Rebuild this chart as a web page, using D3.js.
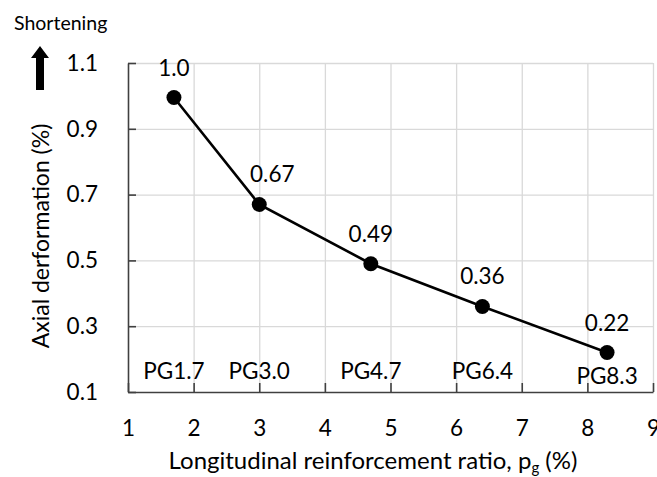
<!DOCTYPE html>
<html>
<head>
<meta charset="utf-8">
<script src="https://cdn.jsdelivr.net/npm/d3@7"></script>
<style>
  body { margin: 0; background: #fff; }
  text { font-family: Lato, "Open Sans", sans-serif; fill: #000; }
</style>
</head>
<body>
<svg id="chart" width="657" height="477"></svg>
<script>
// data
var ratio = [1.7, 3.0, 4.7, 6.4, 8.3];
var deform = [0.995, 0.67, 0.49, 0.36, 0.22];
var valueLabels = ["1.0", "0.67", "0.49", "0.36", "0.22"];
var specimens = ["PG1.7", "PG3.0", "PG4.7", "PG6.4", "PG8.3"];
var xTicks = [1, 2, 3, 4, 5, 6, 7, 8, 9];
var yTicks = [0.1, 0.3, 0.5, 0.7, 0.9, 1.1];

var Width = 657, Height = 477;
var margin = {top: 63, right: 4, bottom: 85, left: 128};

var x = d3.scaleLinear().domain([1, 9]).range([margin.left, Width - margin.right]);
var y = d3.scaleLinear().domain([0.1, 1.1]).range([Height - margin.bottom, margin.top]);

var svg = d3.select("#chart");

// grid lines
svg.append("g")
    .attr("transform", "translate(0," + y(0.1) + ")")
    .call(d3.axisBottom(x).tickValues(xTicks.slice(1)).tickSize(-(y(0.1) - y(1.1))).tickFormat(""))
    .call(g => g.select(".domain").remove())
    .selectAll("line").attr("stroke", "#d9d9d9").attr("stroke-width", 1.3);

svg.append("g")
    .attr("transform", "translate(" + x(1) + ",0)")
    .call(d3.axisLeft(y).tickValues(yTicks.slice(1)).tickSize(-(x(9) - x(1))).tickFormat(""))
    .call(g => g.select(".domain").remove())
    .selectAll("line").attr("stroke", "#d9d9d9").attr("stroke-width", 1.3);

// axes, ticks pointing inward
var xAxis = svg.append("g")
    .attr("transform", "translate(0," + y(0.1) + ")")
    .call(d3.axisBottom(x).tickValues(xTicks).tickSizeInner(-9).tickSizeOuter(0).tickPadding(28).tickFormat(d3.format("d")));

var yAxis = svg.append("g")
    .attr("transform", "translate(" + x(1) + ",0)")
    .call(d3.axisLeft(y).tickValues(yTicks).tickSizeInner(-8).tickSizeOuter(0).tickPadding(30).tickFormat(d3.format(".1f")));

[xAxis, yAxis].forEach(function(a) {
  a.select(".domain").attr("stroke", "#404040").attr("stroke-width", 1.6);
  a.selectAll(".tick line").attr("stroke", "#404040").attr("stroke-width", 1.6);
  a.selectAll(".tick text").style("font-size", "22.5px").attr("fill", "#000");
});

// the line and markers
var line = d3.line()
    .x(function(d, i) { return x(ratio[i]); })
    .y(function(d) { return y(d); });

svg.append("path")
    .attr("d", line(deform))
    .attr("fill", "none")
    .attr("stroke", "#000")
    .attr("stroke-width", 2.6);

svg.selectAll(".pt")
    .data(deform)
    .enter().append("circle")
    .attr("class", "pt")
    .attr("cx", function(d, i) { return x(ratio[i]); })
    .attr("cy", function(d) { return y(d); })
    .attr("r", 7.5)
    .attr("fill", "#000");

// value labels above points
svg.selectAll(".val")
    .data(deform)
    .enter().append("text")
    .attr("class", "val")
    .attr("x", function(d, i) { return x(ratio[i]) + (i == 1 ? 13 : 0); })
    .attr("y", function(d) { return y(d) - 22; })
    .attr("text-anchor", "middle")
    .style("font-size", "22.5px")
    .text(function(d, i) { return valueLabels[i]; });

// specimen names along the bottom
svg.selectAll(".spec")
    .data(specimens)
    .enter().append("text")
    .attr("class", "spec")
    .attr("x", function(d, i) { return x(ratio[i]); })
    .attr("y", function(d, i) { return y(0.1) - (i == 4 ? 8 : 13); })
    .attr("text-anchor", "middle")
    .style("font-size", "22.5px")
    .text(function(d) { return d; });

// axis titles
svg.append("text")
    .attr("transform", "translate(49,236) rotate(-90)")
    .attr("text-anchor", "middle")
    .style("font-size", "23px")
    .text("Axial derformation (%)");

var xt = svg.append("text")
    .attr("x", 373)
    .attr("y", 469)
    .attr("text-anchor", "middle")
    .style("font-size", "24px");
xt.append("tspan").text("Longitudinal reinforcement ratio, p");
xt.append("tspan").attr("dy", 4).style("font-size", "15px").text("g");
xt.append("tspan").attr("dy", -4).text(" (%)");

// shortening arrow
svg.append("text")
    .attr("x", 14)
    .attr("y", 30)
    .style("font-size", "19.5px")
    .text("Shortening");

svg.append("path")
    .attr("d", "M40,46 L49,58 L44,58 L44,90 L36,90 L36,58 L31,58 Z")
    .attr("fill", "#000");
</script>
</body>
</html>
